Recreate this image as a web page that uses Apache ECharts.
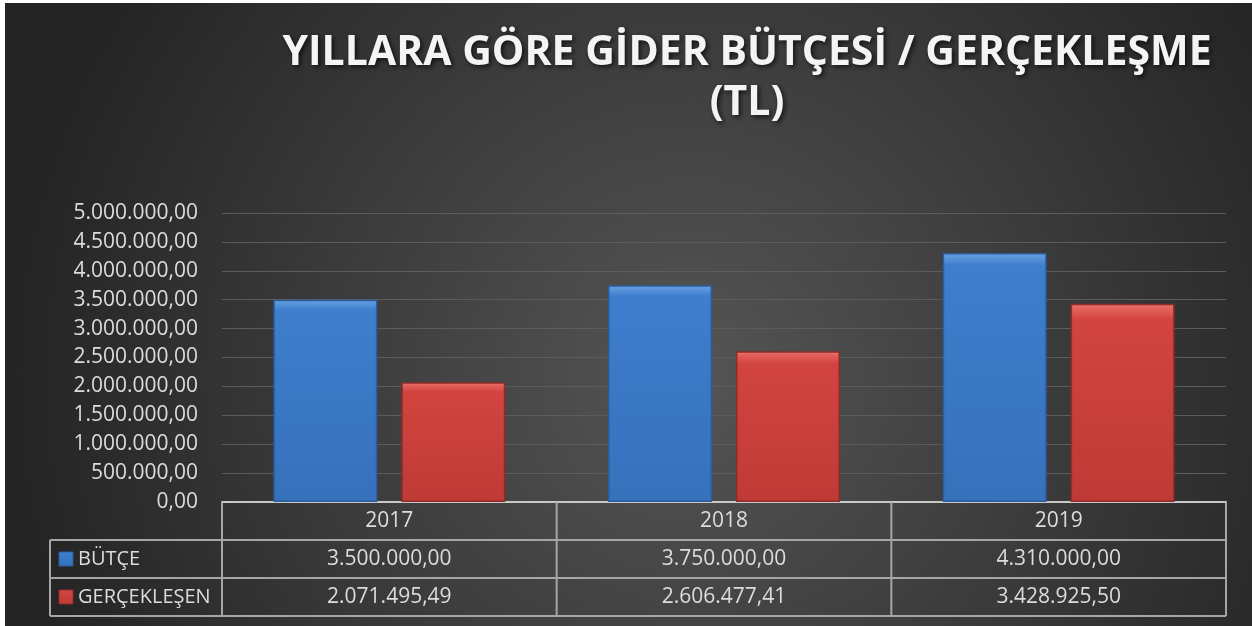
<!DOCTYPE html>
<html>
<head>
<meta charset="utf-8">
<script src="https://cdn.jsdelivr.net/npm/echarts@6/dist/echarts.min.js"></script>
<style>
  html, body { margin: 0; padding: 0; background: #ffffff; }
  #chart { position: absolute; left: 5px; top: 3px; width: 1247px; height: 623px; }
</style>
</head>
<body>
<div id="chart"></div>
<script>
// 数据
const years = ['2017', '2018', '2019']
const butce = [3500000, 3750000, 4310000]
const gerceklesen = [2071495.49, 2606477.41, 3428925.50]
const seriesNames = ['BÜTÇE', 'GERÇEKLEŞEN']

// 布局
const gridLeft = 217
const gridRight = 26
const gridTop = 210
const gridBottom = 124
const rowH = 38
const tableLeft = 45
const lineColor = '#a6a6a6'
const textColor = '#dcdcdc'
const font = '"Open Sans", sans-serif'

// 土耳其格式 5.000.000,00
function trFormat(v) {
  const parts = v.toFixed(2).split('.')
  return parts[0].replace(/\B(?=(\d{3})+(?!\d))/g, '.') + ',' + parts[1]
}

const blueFill = new echarts.graphic.LinearGradient(0, 0, 0, 1, [
  { offset: 0, color: '#6aa2e2' },
  { offset: 0.035, color: '#4d8ad6' },
  { offset: 0.05, color: '#3e7ecd' },
  { offset: 1, color: '#3671bb' }
])
const redFill = new echarts.graphic.LinearGradient(0, 0, 0, 1, [
  { offset: 0, color: '#ea706a' },
  { offset: 0.05, color: '#dc5450' },
  { offset: 0.08, color: '#d2443f' },
  { offset: 1, color: '#bf3a36' }
])

const chart = echarts.init(document.getElementById('chart'))

chart.setOption({
  animation: false,
  backgroundColor: new echarts.graphic.RadialGradient(0.55, 0.6, 1.1, [
    { offset: 0, color: '#555555' },
    { offset: 1, color: '#242424' }
  ]),
  title: {
    text: 'YILLARA GÖRE GİDER BÜTÇESİ / GERÇEKLEŞME\n(TL)',
    left: 737,
    top: 20,
    textAlign: 'center',
    textStyle: {
      color: '#f4f4f4',
      fontFamily: font,
      fontWeight: 'bold',
      fontSize: 41,
      lineHeight: 50,
      textShadowColor: 'rgba(0,0,0,0.7)',
      textShadowBlur: 5,
      textShadowOffsetX: 2,
      textShadowOffsetY: 2
    }
  },
  grid: { left: gridLeft, right: gridRight, top: gridTop, bottom: gridBottom },
  xAxis: {
    type: 'category',
    data: years,
    axisLine: { lineStyle: { color: '#c8c8c8', width: 2 } },
    axisTick: { show: false },
    axisLabel: { show: false }
  },
  yAxis: {
    type: 'value',
    min: 0,
    max: 5000000,
    interval: 500000,
    axisLine: { show: false },
    axisTick: { show: false },
    axisLabel: {
      color: textColor,
      fontFamily: font,
      fontSize: 21,
      margin: 24,
      formatter: v => trFormat(v)
    },
    splitLine: { lineStyle: { color: '#5c5c5c', width: 1 } }
  },
  series: [
    {
      name: seriesNames[0],
      type: 'bar',
      data: butce,
      barWidth: 104,
      barGap: '23%',
      itemStyle: { color: blueFill, borderColor: '#2b5e9e', borderWidth: 1.5 }
    },
    {
      name: seriesNames[1],
      type: 'bar',
      data: gerceklesen,
      barWidth: 104,
      itemStyle: { color: redFill, borderColor: '#8f2b28', borderWidth: 1.5 }
    }
  ]
})

// 数据表
function buildTable() {
  const w = chart.getWidth()
  const h = chart.getHeight()
  const top = h - gridBottom
  const right = w - gridRight
  const colW = (right - gridLeft) / years.length
  const els = []
  const line = (x1, y1, x2, y2) => els.push({
    type: 'line',
    shape: { x1, y1, x2, y2 },
    style: { stroke: lineColor, lineWidth: 2 },
    z: 100
  })
  const label = (x, y, text, align, size) => els.push({
    type: 'text',
    x, y,
    style: {
      text, fill: textColor, font: (size || 21) + 'px ' + font,
      align: align || 'center', verticalAlign: 'middle'
    },
    z: 100
  })

  // 横线
  line(gridLeft, top + rowH, right, top + rowH)
  line(tableLeft, top + rowH, gridLeft, top + rowH)
  line(tableLeft, top + rowH * 2, right, top + rowH * 2)
  line(tableLeft, top + rowH * 3, right, top + rowH * 3)
  // 竖线
  line(tableLeft, top + rowH, tableLeft, top + rowH * 3)
  for (let i = 0; i <= years.length; i++) {
    line(gridLeft + colW * i, top, gridLeft + colW * i, top + rowH * 3)
  }

  const rows = [butce, gerceklesen]
  years.forEach((y, i) => {
    const cx = chart.convertToPixel({ xAxisIndex: 0 }, y)
    label(cx, top + rowH / 2, y)
    rows.forEach((r, j) => label(cx, top + rowH * (j + 1.5), trFormat(r[i])))
  })

  const keyColors = [blueFill, redFill]
  const keyBorders = ['#2b5e9e', '#8f2b28']
  seriesNames.forEach((n, j) => {
    const cy = top + rowH * (j + 1.5)
    els.push({
      type: 'rect',
      shape: { x: tableLeft + 9, y: cy - 7, width: 14, height: 14 },
      style: { fill: keyColors[j], stroke: keyBorders[j], lineWidth: 1 },
      z: 100
    })
    label(tableLeft + 28, cy, n, 'left', 20)
  })

  chart.setOption({ graphic: els })
}

buildTable()
</script>
</body>
</html>
